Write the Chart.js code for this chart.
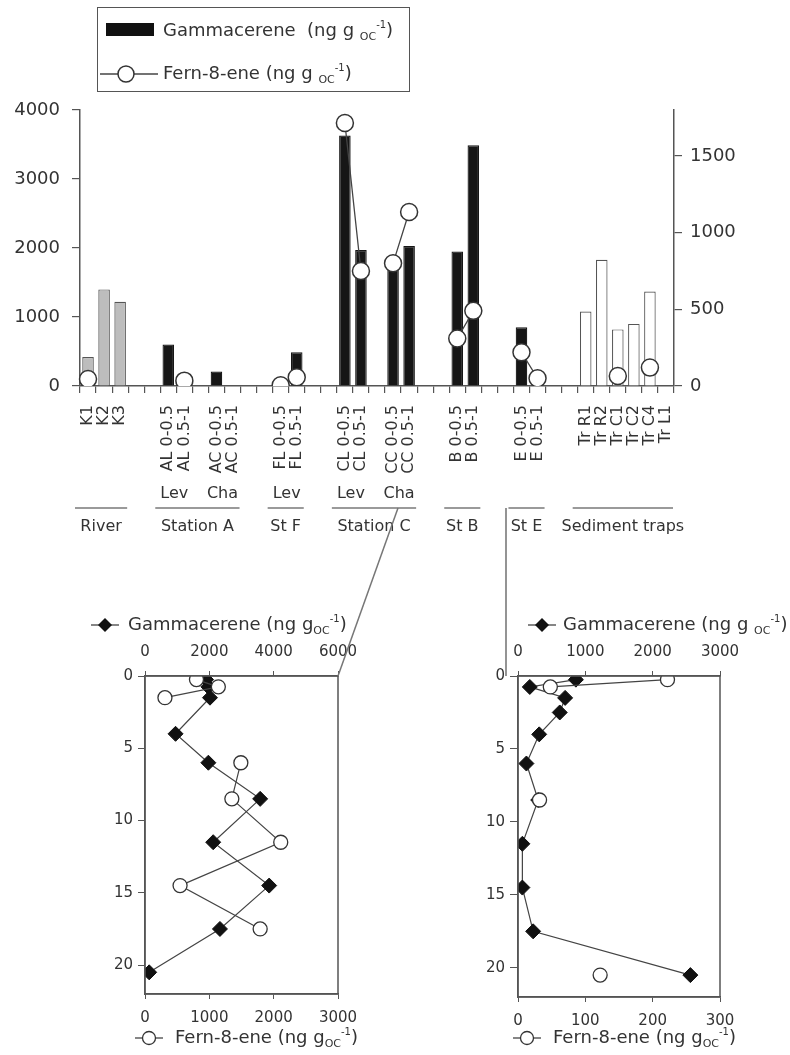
<!DOCTYPE html>
<html>
<head>
<meta charset="utf-8">
<script src="https://cdn.jsdelivr.net/npm/chart.js@4.4.0/dist/chart.umd.min.js"></script>
<style>
  body { margin: 0; background: #fff; font-family: "DejaVu Sans", sans-serif; color: #333; }
  #page { position: relative; width: 790px; height: 1055px; overflow: hidden; }
  canvas, svg.abs { position: absolute; }
  .lab { position: absolute; white-space: nowrap; font-size: 18px; line-height: 22px; color: #333; transform: translateY(-50%); }
  .lab sub { font-size: 11px; vertical-align: -4px; }
  .lab sup { font-size: 10px; vertical-align: 8px; }
  #legendTop { position: absolute; left: 97px; top: 7px; width: 311px; height: 83px; border: 1.5px solid #555; }
</style>
</head>
<body>
<div id="page">
  <canvas id="topChart" width="790" height="560" style="left:0;top:0"></canvas>
  <canvas id="chartC" width="400" height="455" style="left:0;top:600px"></canvas>
  <canvas id="chartE" width="390" height="455" style="left:400px;top:600px"></canvas>

  <div id="legendTop">
    <div style="position:absolute;left:8px;top:15px;width:48px;height:13px;background:#111"></div>
    <div class="lab" style="left:65px;top:23px">Gammacerene&nbsp; (ng g <sub>OC</sub><sup>-1</sup>)</div>
    <svg class="abs" style="left:2px;top:56px" width="58" height="20"><line x1="0" y1="10" x2="58" y2="10" stroke="#444" stroke-width="1.5"/><circle cx="26" cy="10" r="8" fill="#fff" stroke="#333" stroke-width="1.5"/></svg>
    <div class="lab" style="left:65px;top:66px">Fern-8-ene (ng g <sub>OC</sub><sup>-1</sup>)</div>
  </div>

  <!-- legends of the two depth profiles -->
  <svg class="abs" style="left:91px;top:617px" width="28" height="16"><line x1="0" y1="8" x2="28" y2="8" stroke="#444" stroke-width="1.3"/><path d="M14 1 L21 8 L14 15 L7 8 Z" fill="#111"/></svg>
  <div class="lab" style="left:128px;top:625px">Gammacerene (ng g<sub>OC</sub><sup>-1</sup>)</div>
  <svg class="abs" style="left:135px;top:1030px" width="28" height="16"><line x1="0" y1="8" x2="28" y2="8" stroke="#444" stroke-width="1.3"/><circle cx="14" cy="8" r="6.5" fill="#fff" stroke="#333" stroke-width="1.3"/></svg>
  <div class="lab" style="left:175px;top:1038px">Fern-8-ene (ng g<sub>OC</sub><sup>-1</sup>)</div>

  <svg class="abs" style="left:528px;top:617px" width="28" height="16"><line x1="0" y1="8" x2="28" y2="8" stroke="#444" stroke-width="1.3"/><path d="M14 1 L21 8 L14 15 L7 8 Z" fill="#111"/></svg>
  <div class="lab" style="left:563px;top:625px">Gammacerene (ng g <sub>OC</sub><sup>-1</sup>)</div>
  <svg class="abs" style="left:513px;top:1030px" width="28" height="16"><line x1="0" y1="8" x2="28" y2="8" stroke="#444" stroke-width="1.3"/><circle cx="14" cy="8" r="6.5" fill="#fff" stroke="#333" stroke-width="1.3"/></svg>
  <div class="lab" style="left:553px;top:1038px">Fern-8-ene (ng g<sub>OC</sub><sup>-1</sup>)</div>

  <!-- connectors from the station groups to the core profiles -->
  <svg class="abs" style="left:0;top:0;pointer-events:none" width="790" height="1055">
    <line x1="398" y1="508" x2="338" y2="676" stroke="#777" stroke-width="1.5"/>
    <line x1="506" y1="508" x2="506" y2="676" stroke="#888" stroke-width="1.8"/>
  </svg>
</div>

<script>
// --- top chart: surface sediments and traps ---
const categories = ['K1', 'K2', 'K3', '', '', 'AL 0-0.5', 'AL 0.5-1', '', 'AC 0-0.5', 'AC 0.5-1', '', '',
    'FL 0-0.5', 'FL 0.5-1', '', '', 'CL 0-0.5', 'CL 0.5-1', '', 'CC 0-0.5', 'CC 0.5-1', '', '',
    'B 0-0.5', 'B 0.5-1', '', '', 'E 0-0.5', 'E 0.5-1', '', '',
    'Tr R1', 'Tr R2', 'Tr C1', 'Tr C2', 'Tr C4', 'Tr L1'];

// gammacerene, left axis
const gammacerene = [420, 1400, 1220, null, null, 600, null, null, 210, null, null, null,
    null, 490, null, null, 3630, 1970, null, 1700, 2030, null, null,
    1950, 3490, null, null, 850, 175, null, null,
    1080, 1830, 820, 900, 1370, null];

// fern-8-ene, right axis
const fern = [45, null, null, null, null, null, 35, null, null, null, null, null,
    5, 57, null, null, 1715, 750, null, 800, 1135, null, null,
    310, 490, null, null, 220, 50, null, null,
    null, null, 65, null, 120, null];

const leftTicks = [0, 1000, 2000, 3000, 4000];
const rightTicks = [0, 500, 1000, 1500];

// group labels under the axis
const groupNames = ['River', 'Station A', 'St F', 'Station C', 'St B', 'St E', 'Sediment traps'];
const groupFrom = [0, 5, 12, 16, 23, 27, 31];
const groupTo = [2, 9, 13, 20, 24, 28, 36];
const subNames = ['Lev', 'Cha', 'Lev', 'Lev', 'Cha'];
const subAt = [5.5, 8.5, 12.5, 16.5, 19.5];

// --- depth profiles (cm) ---
const depthTicks = [0, 5, 10, 15, 20];

const depthC = [0.25, 0.75, 1.5, 4, 6, 8.5, 11.5, 14.5, 17.5, 20.5];
const gamC = [1900, 1970, 2020, 950, 1970, 3580, 2120, 3860, 2330, 130];
const fernC = [800, 1140, 310, null, 1490, 1350, 2110, 545, 1790, null];
const gamTicksC = [0, 2000, 4000, 6000];
const fernTicksC = [0, 1000, 2000, 3000];

const depthE = [0.25, 0.75, 1.5, 2.5, 4, 6, 8.5, 11.5, 14.5, 17.5, 20.5];
const gamE = [860, 175, 700, 620, 315, 125, 300, 65, 65, 225, 2560];
const fernE = [222, 48, null, null, null, null, 32, null, null, null, 122];
const gamTicksE = [0, 1000, 2000, 3000];
const fernTicksE = [0, 100, 200, 300];

Chart.defaults.font.family = '"DejaVu Sans", sans-serif';
Chart.defaults.color = '#333';

const AXIS = '#555';
const plain = v => String(v);
const fixedTicks = list => s => { s.ticks = list.map(v => ({ value: v })); };

function barFill(i) {
    if (i <= 2) return '#bdbdbd';
    if (i >= 31) return '#ffffff';
    return '#161616';
}
function barEdge(i) {
    return (i <= 2 || i >= 31) ? '#555' : '#161616';
}

const groupPlugin = {
    id: 'groups',
    afterDraw(chart) {
        const x = chart.scales.x;
        const ctx = chart.ctx;
        const bottom = chart.chartArea.bottom;
        ctx.save();
        ctx.fillStyle = '#333';
        ctx.font = '16px "DejaVu Sans"';
        ctx.textAlign = 'center';
        ctx.textBaseline = 'middle';
        subNames.forEach((n, i) => ctx.fillText(n, x.getPixelForValue(subAt[i]) - 2, bottom + 108));
        ctx.strokeStyle = '#9a9a9a';
        ctx.lineWidth = 2;
        groupNames.forEach((n, i) => {
            const x0 = x.getPixelForValue(groupFrom[i] - 0.5) - 5;
            const x1 = x.getPixelForValue(groupTo[i] + 0.5) - 1;
            ctx.beginPath();
            ctx.moveTo(x0, bottom + 122);
            ctx.lineTo(x1, bottom + 122);
            ctx.stroke();
            ctx.fillText(n, (x0 + x1) / 2, bottom + 141);
        });
        ctx.restore();
    }
};

new Chart(document.getElementById('topChart'), {
    type: 'bar',
    data: {
        labels: categories,
        datasets: [{
            type: 'line',
            label: 'Fern-8-ene',
            data: fern,
            yAxisID: 'y1',
            order: 0,
            borderColor: '#444',
            borderWidth: 1.3,
            pointRadius: 8.5,
            pointBackgroundColor: '#fff',
            pointBorderColor: '#333',
            pointBorderWidth: 1.5,
            spanGaps: false,
            tension: 0
        }, {
            type: 'bar',
            label: 'Gammacerene',
            data: gammacerene,
            yAxisID: 'y',
            order: 1,
            backgroundColor: categories.map((c, i) => barFill(i)),
            borderColor: categories.map((c, i) => barEdge(i)),
            borderWidth: 1.2,
            barPercentage: 0.72,
            categoryPercentage: 1
        }]
    },
    options: {
        responsive: false,
        devicePixelRatio: 1,
        animation: false,
        events: [],
        layout: { padding: { top: 110, left: 0, right: 0, bottom: 0 } },
        plugins: { legend: { display: false }, tooltip: { enabled: false } },
        scales: {
            x: {
                offset: true,
                grid: { offset: true, drawOnChartArea: false, tickLength: 7, color: AXIS, lineWidth: 1.2 },
                border: { color: AXIS, width: 1.5 },
                ticks: { autoSkip: false, minRotation: 90, maxRotation: 90, padding: 12, font: { size: 16 } },
                afterFit: s => { s.height = 174; }
            },
            y: {
                position: 'left',
                min: 0,
                max: 4000,
                afterBuildTicks: fixedTicks(leftTicks),
                ticks: { autoSkip: false, padding: 12, font: { size: 18 }, callback: plain },
                grid: { drawOnChartArea: false, tickLength: 8, color: AXIS, lineWidth: 1.2 },
                border: { color: AXIS, width: 1.5 },
                afterFit: s => { s.width = 80; }
            },
            y1: {
                type: 'linear',
                position: 'right',
                min: 0,
                max: 1800,
                afterBuildTicks: fixedTicks(rightTicks),
                ticks: { autoSkip: false, padding: 8, font: { size: 18 }, callback: plain },
                grid: { drawOnChartArea: false, tickLength: 8, color: AXIS, lineWidth: 1.2 },
                border: { color: AXIS, width: 1.5 },
                afterFit: s => { s.width = 116; }
            }
        }
    },
    plugins: [groupPlugin]
});

// closes the profile box on the right side
const boxPlugin = {
    id: 'box',
    afterDraw(chart) {
        const a = chart.chartArea;
        const ctx = chart.ctx;
        ctx.save();
        ctx.strokeStyle = AXIS;
        ctx.lineWidth = 1.5;
        ctx.strokeRect(a.left, a.top, a.right - a.left, a.bottom - a.top);
        ctx.restore();
    }
};

function depthChart(id, depths, gam, fernVals, gamTicks, fernTicks, box) {
    new Chart(document.getElementById(id), {
        type: 'scatter',
        data: {
            datasets: [{
                label: 'Fern-8-ene',
                data: depths.map((d, i) => ({ x: fernVals[i], y: d })),
                xAxisID: 'xf',
                yAxisID: 'y',
                order: 0,
                showLine: true,
                spanGaps: false,
                borderColor: '#444',
                borderWidth: 1.2,
                pointStyle: 'circle',
                pointRadius: 7,
                pointBackgroundColor: '#fff',
                pointBorderColor: '#333',
                pointBorderWidth: 1.3
            }, {
                label: 'Gammacerene',
                data: depths.map((d, i) => ({ x: gam[i], y: d })),
                xAxisID: 'xg',
                yAxisID: 'y',
                order: 1,
                showLine: true,
                borderColor: '#444',
                borderWidth: 1.2,
                pointStyle: 'rectRot',
                pointRadius: 7.5,
                pointBackgroundColor: '#111',
                pointBorderColor: '#111',
                pointBorderWidth: 1
            }]
        },
        options: {
            responsive: false,
            devicePixelRatio: 1,
            animation: false,
            events: [],
            layout: { padding: { top: 0, left: 0, right: box.right, bottom: 0 } },
            plugins: { legend: { display: false }, tooltip: { enabled: false } },
            scales: {
                y: {
                    position: 'left',
                    reverse: true,
                    min: 0,
                    max: 22,
                    afterBuildTicks: fixedTicks(depthTicks),
                    ticks: { autoSkip: false, padding: 5, font: { size: 15 }, callback: plain },
                    grid: { drawOnChartArea: false, tickLength: box.tick, color: AXIS },
                    border: { color: AXIS, width: 1.5 },
                    afterFit: s => { s.width = box.left; }
                },
                xg: {
                    type: 'linear',
                    position: 'top',
                    min: 0,
                    max: gamTicks[gamTicks.length - 1],
                    afterBuildTicks: fixedTicks(gamTicks),
                    ticks: { autoSkip: false, padding: 10, font: { size: 15 }, callback: plain },
                    grid: { drawOnChartArea: false, tickLength: 5, color: AXIS },
                    border: { color: AXIS, width: 1.5 },
                    afterFit: s => { s.height = 76; }
                },
                xf: {
                    type: 'linear',
                    position: 'bottom',
                    min: 0,
                    max: fernTicks[fernTicks.length - 1],
                    afterBuildTicks: fixedTicks(fernTicks),
                    ticks: { autoSkip: false, padding: 10, font: { size: 15 }, callback: plain },
                    grid: { drawOnChartArea: false, tickLength: 5, color: AXIS },
                    border: { color: AXIS, width: 1.5 },
                    afterFit: s => { s.height = box.bottom; }
                }
            }
        },
        plugins: [boxPlugin]
    });
}

depthChart('chartC', depthC, gamC, fernC, gamTicksC, fernTicksC, { left: 145, right: 62, bottom: 61, tick: 7 });
depthChart('chartE', depthE, gamE, fernE, gamTicksE, fernTicksE, { left: 118, right: 70, bottom: 58, tick: 8 });
</script>
</body>
</html>
